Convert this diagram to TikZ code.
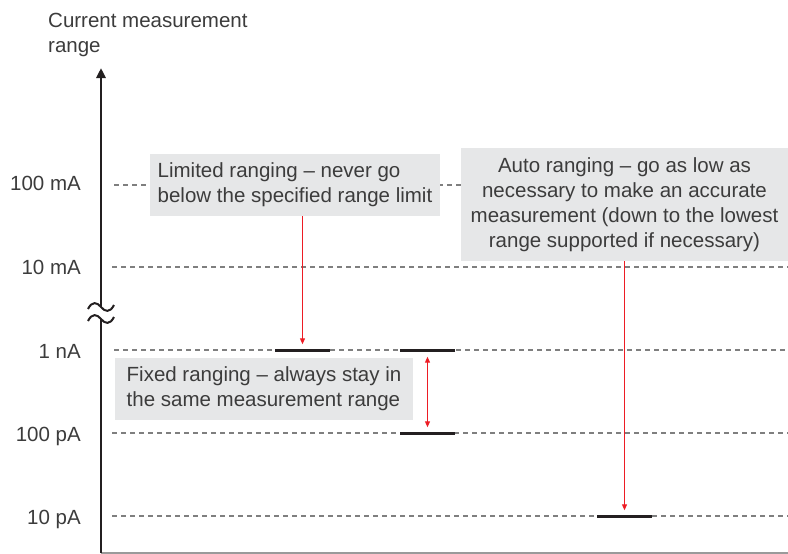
\documentclass[tikz,border=0pt]{standalone}
\usepackage{fontspec}
\setmainfont{Liberation Sans}
\usetikzlibrary{arrows.meta}
\definecolor{txt}{HTML}{3C3C3C}
\definecolor{boxgray}{HTML}{E6E7E8}
\definecolor{dashgray}{HTML}{7F7F7F}
\definecolor{arrred}{HTML}{ED1C24}
\definecolor{barblack}{HTML}{231F20}
\definecolor{basegray}{HTML}{9A9A9A}
\begin{document}
\begin{tikzpicture}[x=1pt,y=-1pt,
  lbl/.style={font=\fontsize{20.5}{25}\selectfont, text=txt},
  ticklbl/.style={lbl, anchor=east, inner sep=0pt, text height=15pt, text depth=0pt},
  level/.style={dashgray, line width=1.1pt, dash pattern=on 5pt off 4pt},
  infobox/.style={lbl, fill=boxgray, inner sep=0pt},
  rangebar/.style={fill=barblack, inner sep=0pt, minimum width=55pt, minimum height=3pt},
  redtip/.style={arrred, line width=1pt},
  axisline/.style={barblack, line width=2.5pt},
]
\useasboundingbox (0,0) rectangle (788,554);
% axis title
\node[lbl, anchor=north west, align=left, inner sep=0pt] (title) at (48,13) {Current measurement\\range};
% tick labels
\node[ticklbl] (l100m) at (81,183) {100 mA};
\node[ticklbl] (l10m) at (81,267) {10 mA};
\node[ticklbl] (l1n) at (81,351) {1 nA};
\node[ticklbl] (l100p) at (81,434) {100 pA};
\node[ticklbl] (l10p) at (81,517) {10 pA};
% level lines
\coordinate (rightedge) at (788,0);
\coordinate (s100m) at (114,185);
\coordinate (s10m) at (112,267);
\coordinate (s1n) at (114,350);
\coordinate (s100p) at (112,433);
\coordinate (s10p) at (112,516);
\draw[level] (s100m) -- (s100m -| rightedge);
\draw[level] (s10m) -- (s10m -| rightedge);
\draw[level] (s1n) -- (s1n -| rightedge);
\draw[level] (s100p) -- (s100p -| rightedge);
\draw[level] (s10p) -- (s10p -| rightedge);
% boxes
\node[infobox, align=left, minimum width=290pt, minimum height=62pt] (limited) at (295,185) {Limited ranging – never go\\below the specified range limit};
\node[infobox, align=left, minimum width=298pt, minimum height=62pt] (fixed) at (264,389) {Fixed ranging – always stay in\\the same measurement range};
\node[infobox, align=center, minimum width=327pt, minimum height=113pt] (auto) at (624.5,204.5) {Auto ranging – go as low as\\necessary to make an accurate\\measurement (down to the lowest\\range supported if necessary)};
% range bars
\node[rangebar] (limbar) at (302.5,350) {};
\node[rangebar] (fixtop) at (427.5,350) {};
\node[rangebar] (fixbot) at (427.5,433) {};
\node[rangebar] (autobar) at (624.5,516) {};
% red arrows
\draw[redtip, -{Triangle[length=6pt,width=5pt]}, shorten >=4pt] (limited.south -| limbar.north) -- (limbar.north);
\draw[redtip, {Triangle[length=6pt,width=5pt]}-{Triangle[length=6pt,width=5pt]}, shorten <=5pt, shorten >=4pt] (fixtop.south) -- (fixbot.north);
\draw[redtip, -{Triangle[length=6pt,width=5pt]}, shorten >=4pt] (auto.south -| autobar.north) -- (autobar.north);
% axes
\coordinate (origin) at (101,553);
\coordinate (axtop) at (101,68);
\coordinate (brkA) at (101,307);
\coordinate (brkB) at (101,319);
\draw[basegray, line width=1.5pt] (origin) -- (origin -| rightedge);
\draw[axisline] (origin) -- (brkB);
\draw[axisline, -{Triangle[length=10pt,width=9pt]}] (brkA) -- (axtop);
\draw[barblack, line width=2pt] ([shift={(-13,2)}]brkA) .. controls +(4,-8) and +(-4,-5) .. (brkA) .. controls +(4,5) and +(-4,8) .. ([shift={(13,-2)}]brkA);
\draw[barblack, line width=2pt] ([shift={(-13,2)}]brkB) .. controls +(4,-8) and +(-4,-5) .. (brkB) .. controls +(4,5) and +(-4,8) .. ([shift={(13,-2)}]brkB);
\end{tikzpicture}
\end{document}
